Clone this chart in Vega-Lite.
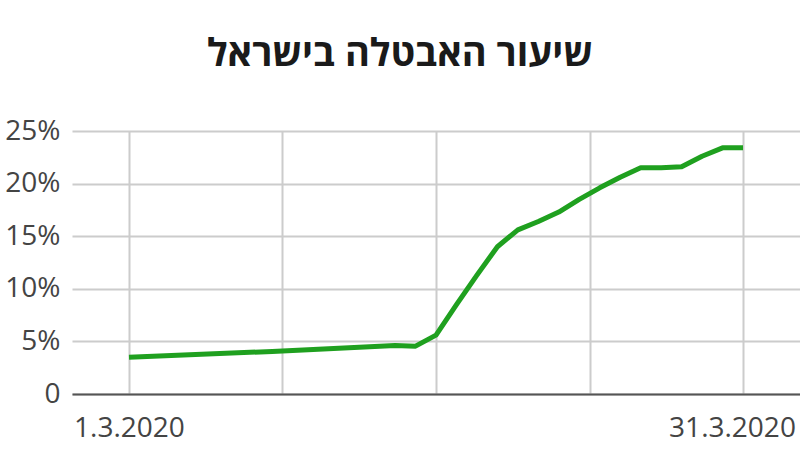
{
  "$schema": "https://vega.github.io/schema/vega-lite/v6.json",
  "width": 728,
  "height": 263,
  "autosize": {"type": "none"},
  "padding": {"left": 72, "top": 131, "right": 0, "bottom": 56},
  "background": "white",
  "title": {
    "text": "שיעור האבטלה בישראל",
    "font": "Open Sans",
    "fontSize": 38,
    "fontWeight": "bold",
    "color": "#1a1a1a",
    "anchor": "middle",
    "frame": "group",
    "dx": -36,
    "baseline": "alphabetic",
    "offset": 13
  },
  "config": {"view": {"stroke": null}},
  "data": {
    "values": [
      {"day": 1, "rate": 3.5},
      {"day": 8, "rate": 4.05},
      {"day": 14, "rate": 4.6},
      {"day": 15, "rate": 4.55},
      {"day": 16, "rate": 5.6},
      {"day": 17, "rate": 8.5},
      {"day": 18, "rate": 11.3},
      {"day": 19, "rate": 14.0},
      {"day": 20, "rate": 15.6},
      {"day": 21, "rate": 16.4},
      {"day": 22, "rate": 17.3},
      {"day": 23, "rate": 18.5},
      {"day": 24, "rate": 19.6},
      {"day": 25, "rate": 20.6},
      {"day": 26, "rate": 21.5},
      {"day": 27, "rate": 21.5},
      {"day": 28, "rate": 21.6},
      {"day": 29, "rate": 22.6},
      {"day": 30, "rate": 23.4},
      {"day": 31, "rate": 23.4}
    ]
  },
  "mark": {"type": "line", "color": "#1fa01f", "strokeWidth": 5, "strokeJoin": "round", "strokeCap": "butt"},
  "encoding": {
    "x": {
      "field": "day",
      "type": "quantitative",
      "scale": {"domain": [-1.785, 33.785], "nice": false, "zero": false},
      "axis": {
        "values": [1, 8.5, 16, 23.5, 31],
        "labelExpr": "datum.value == 1 ? '1.3.2020' : datum.value == 31 ? '31.3.2020' : ''",
        "title": null,
        "grid": true,
        "gridColor": "#cccccc",
        "gridWidth": 2,
        "domainColor": "#555555",
        "domainWidth": 2,
        "ticks": false,
        "labelFont": "Open Sans",
        "labelFontSize": 28,
        "labelColor": "#444444",
        "labelPadding": 20,
        "labelOffset": {"expr": "datum.value == 31 ? -11 : 0"},
        "labelBound": false,
        "labelOverlap": false,
        "labelFlush": false
      }
    },
    "y": {
      "field": "rate",
      "type": "quantitative",
      "scale": {"domain": [0, 25], "nice": false},
      "axis": {
        "values": [0, 5, 10, 15, 20, 25],
        "labelExpr": "datum.value == 0 ? '0' : datum.value + '%'",
        "title": null,
        "domain": false,
        "ticks": false,
        "grid": true,
        "gridColor": "#cccccc",
        "gridWidth": 2,
        "labelFont": "Open Sans",
        "labelFontSize": 28,
        "labelColor": "#444444",
        "labelPadding": 12
      }
    }
  }
}
